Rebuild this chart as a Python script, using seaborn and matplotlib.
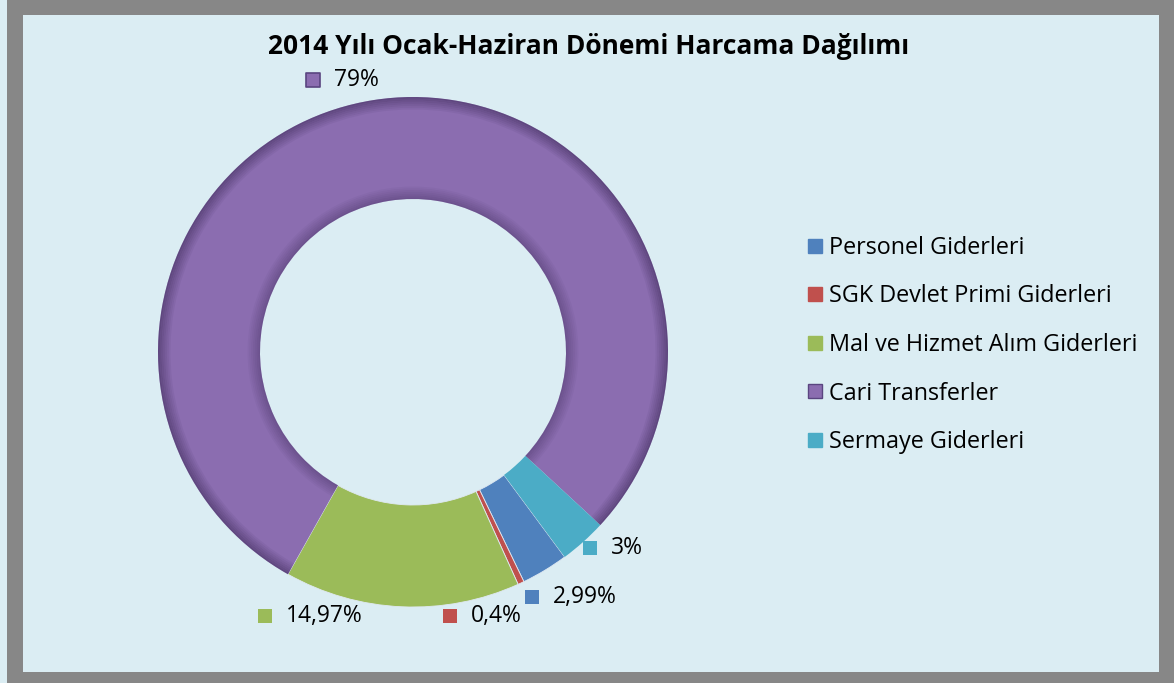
"""
2014 Ocak-Haziran harcama dagilimi - halka (donut) grafik
"""
import numpy as np
import pandas as pd
import seaborn as sns
import matplotlib.pyplot as plt
from matplotlib.patches import FancyBboxPatch, Rectangle, Wedge
from matplotlib.lines import Line2D

sns.set_theme(style='white')
plt.rcParams['font.family'] = ['Open Sans', 'DejaVu Sans']

# data
categories = ['Personel Giderleri', 'SGK Devlet Primi Giderleri',
              'Mal ve Hizmet Alım Giderleri', 'Cari Transferler',
              'Sermaye Giderleri']
shares = [2.99, 0.4, 14.97, 79, 3]
value_labels = ['2,99%', '0,4%', '14,97%', '79%', '3%']
title = '2014 Yılı Ocak-Haziran Dönemi Harcama Dağılımı'

palette = sns.color_palette(['#4F81BD', '#C0504D', '#9BBB59', '#8B6DB0', '#4BACC6'])

# where excel put the data labels (marker centre, pie units)
label_pos = {
    '2,99%': (0.467, -0.961),
    '0,4%': (0.145, -1.035),
    '14,97%': (-0.580, -1.035),
    '79%': (-0.392, 1.067),
    '3%': (0.694, -0.769),
}

bg = '#DBEDF3'
frame = '#878787'

fig = plt.figure(figsize=(11.74, 6.83), dpi=100)
fig.patch.set_facecolor(bg)

# grey frame + light inner panel
fig.patches.append(FancyBboxPatch((7 / 1174, -0.05), 1.1, 1.1,
                                  boxstyle='round,pad=0,rounding_size=0.015',
                                  transform=fig.transFigure, facecolor=frame,
                                  edgecolor='none', zorder=0))
fig.patches.append(Rectangle((23 / 1174, 11 / 683), (1159 - 23) / 1174, (672 - 15) / 683,
                             transform=fig.transFigure, facecolor=bg,
                             edgecolor='none', zorder=1))

# pie axes: centre (413, 352) px, radius 255 px
ax = fig.add_axes([158 / 1174, (683 - 352 - 255) / 683, 510 / 1174, 510 / 683])
ax.set_zorder(3)
ax.set_facecolor('none')

df = pd.DataFrame({'category': categories, 'share': shares, 'label': value_labels})

wedges, _ = ax.pie(df['share'], colors=palette, startangle=-53.5, counterclock=False,
                   radius=1, wedgeprops=dict(width=0.4, edgecolor='none'))
ax.set_xlim(-1, 1)
ax.set_ylim(-1, 1)
ax.set_aspect('equal')
ax.axis('off')

# thin light seams between the small slices
for wd in wedges[:3]:
    wd.set_edgecolor('#dfe9f2')
    wd.set_linewidth(0.6)

# bevel shading on the big slice
w = wedges[3]
for i in range(7):
    a = 0.45 * (1 - i / 7)
    ax.add_patch(Wedge((0, 0), 1 - i * 0.007, w.theta1, w.theta2, width=0.007,
                       facecolor='#2b1a45', alpha=a, edgecolor='none'))
    ax.add_patch(Wedge((0, 0), 0.6 + (i + 1) * 0.007, w.theta1, w.theta2, width=0.007,
                       facecolor='#2b1a45', alpha=a * 0.7, edgecolor='none'))

# data labels with little colour squares
for (_, row), col in zip(df.iterrows(), palette):
    x, y = label_pos[row['label']]
    ec = '#5a4580' if row['category'] == 'Cari Transferler' else 'none'
    ax.scatter([x], [y], marker='s', s=110, color=col, edgecolors=ec,
               linewidths=1.2, clip_on=False)
    ax.annotate(row['label'], (x, y), xytext=(15, 0), textcoords='offset points',
                ha='left', va='center', fontsize=16.5, color='black',
                annotation_clip=False)

fig.text(589 / 1174, 1 - 46 / 683, title, ha='center', va='center',
         fontsize=19, fontweight='bold', color='black')

handles = []
for cat, col in zip(categories, palette):
    ec = '#5a4580' if cat == 'Cari Transferler' else col
    handles.append(Line2D([], [], marker='s', linestyle='none', markersize=10.5,
                          markerfacecolor=col, markeredgecolor=ec, label=cat))
fig.legend(handles=handles, loc='upper left', bbox_to_anchor=(807 / 1174, 1 - 236 / 683),
           frameon=False, fontsize=16.8, handlelength=0.7, handletextpad=0.25,
           labelspacing=1.05, borderpad=0, borderaxespad=0, labelcolor='black')

fig.savefig('out.png', dpi=100, facecolor=fig.get_facecolor())
